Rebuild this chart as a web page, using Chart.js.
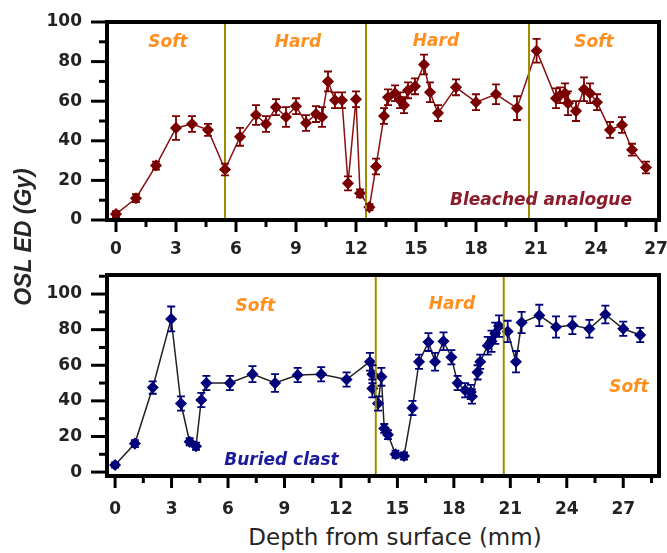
<!DOCTYPE html>
<html>
<head>
<meta charset="utf-8">
<script src="https://cdn.jsdelivr.net/npm/chart.js@4.4.1/dist/chart.umd.min.js"></script>
<style>
  body { margin: 0; background: #fff; }
  #wrap { position: relative; width: 667px; height: 553px; overflow: hidden; }
  .panel { position: absolute; left: 0; width: 667px; height: 262px; }
  #yTitle {
    position: absolute; left: -76px; top: 223px; width: 200px; height: 28px;
    line-height: 28px; text-align: center; transform: rotate(-90deg);
    font: italic bold 23px 'Liberation Sans', Arial, sans-serif; color: #262626;
  }
  #xTitle {
    position: absolute; left: 195px; top: 524px; width: 400px; line-height: 28px;
    text-align: center; font: 23px 'DejaVu Sans', sans-serif; color: #262626;
  }
</style>
</head>
<body>
<div id="wrap">
  <div class="panel" style="top:0"><canvas id="topChart"></canvas></div>
  <div class="panel" style="top:262px"><canvas id="bottomChart"></canvas></div>
  <div id="yTitle">OSL ED (Gy)</div>
  <div id="xTitle">Depth from surface (mm)</div>
</div>
<script>
// Bleached analogue (top panel)
const bleachedDepth = [0, 1.0, 2.0, 3.0, 3.8, 4.6, 5.45, 6.2, 7.0, 7.5, 8.0, 8.5, 9.0, 9.5, 10.0, 10.3, 10.6, 10.95, 11.3, 11.6, 12.0, 12.2, 12.67, 13.0, 13.4, 13.6, 13.95, 14.2, 14.4, 14.6, 14.95, 15.4, 15.7, 16.1, 17.0, 18.0, 19.0, 20.05, 21.03, 22.0, 22.2, 22.45, 22.6, 23.0, 23.4, 23.7, 24.05, 24.7, 25.3, 25.8, 26.5]
const bleachedED = [3, 11, 27.5, 46.5, 48.5, 45.5, 25.5, 42, 53, 48.5, 57, 52, 57.5, 49, 53.5, 52, 70, 60.5, 60.5, 18.5, 61, 13.5, 6.5, 27, 52.5, 62, 64, 60.5, 58, 65.5, 67.5, 78.5, 64.5, 54, 67, 59.5, 63.5, 56.5, 85.5, 61.5, 63, 64, 59, 55, 66, 64, 59.5, 45.5, 48, 35.5, 26.5]
const bleachedErr = [1.5, 2, 2, 6, 4, 3, 3, 4.5, 5, 4, 4, 5, 4, 4, 4, 5, 5, 4, 4, 3.5, 4, 2, 1.5, 4, 4, 4, 4, 4, 4, 4, 4, 5, 5, 4, 4, 4, 5, 6, 6, 5, 4, 5, 6, 5, 6, 5, 4, 4, 4, 3, 3]

// Buried clast (bottom panel)
const buriedDepth = [0, 1.05, 2.0, 2.98, 3.5, 3.96, 4.3, 4.58, 4.85, 6.1, 7.3, 8.5, 9.7, 10.95, 12.3, 13.54, 13.67, 13.67, 13.97, 14.15, 14.3, 14.5, 14.9, 15.35, 15.8, 16.15, 16.65, 17.0, 17.45, 17.87, 18.2, 18.6, 18.9, 18.96, 19.26, 19.4, 19.8, 20.0, 20.2, 20.4, 20.86, 21.3, 21.6, 22.54, 23.43, 24.3, 25.2, 26.05, 27.0, 27.9]
const buriedED = [4, 16, 47.5, 86, 38.5, 17, 14.5, 40.5, 50, 50, 55, 50, 54.5, 55, 52, 62, 55, 47, 38.5, 53.5, 24.5, 21, 10, 9, 36, 62, 73, 62, 73.5, 64.5, 50, 46, 45, 42.5, 56, 62, 71, 73.5, 78, 82, 79, 62, 84, 88, 81.5, 82.5, 80.5, 88.5, 80.5, 77]
const buriedErr = [1.5, 2, 3.5, 7, 4, 2, 2, 4, 4, 4, 4.5, 5, 4, 4, 4, 5, 5, 5, 4, 5, 2.5, 2.5, 2, 2, 4, 4, 5, 5, 5, 4, 4, 4, 4, 4, 4, 4, 5, 6, 6, 6, 6, 6, 6, 6, 6, 5, 5, 5, 4, 4]

// soft / hard boundaries (mm)
const bleachedBounds = [5.45, 12.5, 20.65]
const buriedBounds = [13.85, 20.65]

// axis ticks
const depthTicksTop = [0, 1.5, 3, 4.5, 6, 7.5, 9, 10.5, 12, 13.5, 15, 16.5, 18, 19.5, 21, 22.5, 24, 25.5, 27]
const depthTicksBottom = [0, 1.5, 3, 4.5, 6, 7.5, 9, 10.5, 12, 13.5, 15, 16.5, 18, 19.5, 21, 22.5, 24, 25.5, 27, 28.5]
const depthLabels = [0, 3, 6, 9, 12, 15, 18, 21, 24, 27]
const edTicksTop = [0, 10, 20, 30, 40, 50, 60, 70, 80, 90, 100]
const edTicksBottom = [0, 10, 20, 30, 40, 50, 60, 70, 80, 90, 100, 110]
const edLabels = [0, 20, 40, 60, 80, 100]

const orange = '#ff8f1f'
const noteFont = 'italic bold 17px "DejaVu Sans"'
const tickFont = { family: 'DejaVu Sans', size: 17, weight: 'bold' }

const topNotes = [
  { text: 'Soft', x: 2.6, y: 89.5, color: orange, font: noteFont },
  { text: 'Hard', x: 9.1, y: 89.5, color: orange, font: noteFont },
  { text: 'Hard', x: 16.0, y: 90, color: orange, font: noteFont },
  { text: 'Soft', x: 23.9, y: 89.5, color: orange, font: noteFont },
  { text: 'Bleached analogue', x: 21.25, y: 10, color: '#8b1c2c', font: 'italic bold 17px "DejaVu Sans"' }
]
const bottomNotes = [
  { text: 'Soft', x: 7.45, y: 93, color: orange, font: noteFont },
  { text: 'Hard', x: 17.9, y: 94, color: orange, font: noteFont },
  { text: 'Soft', x: 27.3, y: 47.5, color: orange, font: noteFont },
  { text: 'Buried clast', x: 8.84, y: 6.7, color: '#1c1c9a', font: 'italic bold 17px "DejaVu Sans"' }
]

function toPoints(xs, ys) {
  return xs.map((x, i) => ({ x: x, y: ys[i] }))
}

function boundLines(bounds, yMin, yMax) {
  return bounds.map(b => ({
    data: [{ x: b, y: yMin }, { x: b, y: yMax }],
    showLine: true, borderColor: '#a08c00', borderWidth: 2, pointRadius: 0
  }))
}

// thick frame + major/minor tick marks
const framePlugin = {
  id: 'frame',
  afterDraw(chart) {
    const { ctx, chartArea: a, scales: { x, y } } = chart
    ctx.save()
    ctx.strokeStyle = '#000'
    ctx.lineWidth = 3
    x.ticks.forEach(t => {
      const px = x.getPixelForValue(t.value)
      ctx.beginPath()
      ctx.moveTo(px, a.bottom)
      ctx.lineTo(px, a.bottom + (t.label !== '' ? 12 : 7))
      ctx.stroke()
    })
    y.ticks.forEach(t => {
      const py = y.getPixelForValue(t.value)
      ctx.beginPath()
      ctx.moveTo(a.left, py)
      ctx.lineTo(a.left - (t.label !== '' ? 16 : 8), py)
      ctx.stroke()
    })
    ctx.lineWidth = 4
    ctx.strokeRect(a.left, a.top, a.right - a.left, a.bottom - a.top)
    ctx.restore()
  }
}

const errorBarPlugin = {
  id: 'errorBars',
  afterDatasetsDraw(chart) {
    const { ctx, scales: { x, y } } = chart
    ctx.save()
    chart.data.datasets.forEach(ds => {
      if (!ds.errors) return
      ctx.strokeStyle = ds.pointBackgroundColor
      ctx.lineWidth = 1.8
      ds.data.forEach((p, i) => {
        const px = x.getPixelForValue(p.x)
        const lo = y.getPixelForValue(p.y - ds.errors[i])
        const hi = y.getPixelForValue(p.y + ds.errors[i])
        ctx.beginPath()
        ctx.moveTo(px, lo); ctx.lineTo(px, hi)
        ctx.moveTo(px - 4, lo); ctx.lineTo(px + 4, lo)
        ctx.moveTo(px - 4, hi); ctx.lineTo(px + 4, hi)
        ctx.stroke()
      })
    })
    ctx.restore()
  }
}

const notesPlugin = {
  id: 'notes',
  afterDraw(chart, args, opts) {
    const { ctx, scales: { x, y } } = chart
    ctx.save()
    ctx.textAlign = 'center'
    ctx.textBaseline = 'middle'
    ;(opts.items || []).forEach(n => {
      ctx.font = n.font
      ctx.fillStyle = n.color
      ctx.fillText(n.text, x.getPixelForValue(n.x), y.getPixelForValue(n.y))
    })
    ctx.restore()
  }
}

function makeChart(id, cfg) {
  return new Chart(document.getElementById(id), {
    type: 'scatter',
    data: {
      datasets: [
        ...boundLines(cfg.bounds, cfg.yMin, cfg.yMax),
        {
          data: toPoints(cfg.depth, cfg.ed),
          errors: cfg.err,
          showLine: true,
          borderColor: cfg.lineColor,
          borderWidth: 1.5,
          pointStyle: 'rectRot',
          pointRadius: 5,
          pointBackgroundColor: cfg.color,
          pointBorderColor: cfg.color
        }
      ]
    },
    options: {
      responsive: true,
      maintainAspectRatio: false,
      animation: false,
      layout: { padding: { top: cfg.padTop, right: 8, left: 0, bottom: 0 } },
      plugins: {
        legend: { display: false },
        tooltip: { enabled: false },
        notes: { items: cfg.notes }
      },
      scales: {
        x: {
          type: 'linear',
          min: cfg.xMin,
          max: cfg.xMax,
          grid: { display: false, drawTicks: false },
          border: { display: false },
          afterBuildTicks: s => { s.ticks = cfg.xTicks.map(v => ({ value: v })) },
          afterFit: s => {
            s.height = cfg.xHeight
            s.paddingLeft = 0
            s.paddingRight = 0
          },
          ticks: {
            autoSkip: false, maxRotation: 0, padding: cfg.xPad,
            font: tickFont, color: '#222',
            callback: v => depthLabels.includes(v) ? v : ''
          }
        },
        y: {
          min: cfg.yMin,
          max: cfg.yMax,
          grid: { display: false, drawTicks: false },
          border: { display: false },
          afterBuildTicks: s => { s.ticks = cfg.yTicks.map(v => ({ value: v })) },
          afterFit: s => {
            s.width = 107
            s.paddingTop = 0
            s.paddingBottom = 0
          },
          ticks: {
            autoSkip: false, padding: 25,
            font: tickFont, color: '#222',
            callback: v => edLabels.includes(v) ? v : ''
          }
        }
      }
    },
    plugins: [framePlugin, errorBarPlugin, notesPlugin]
  })
}

makeChart('topChart', {
  depth: bleachedDepth, ed: bleachedED, err: bleachedErr, bounds: bleachedBounds,
  color: '#7a0000', lineColor: '#8b1010', notes: topNotes,
  xMin: -0.45, xMax: 27.15, yMin: 0, yMax: 100,
  xTicks: depthTicksTop, yTicks: edTicksTop,
  padTop: 22, xHeight: 42, xPad: 19
})

makeChart('bottomChart', {
  depth: buriedDepth, ed: buriedED, err: buriedErr, bounds: buriedBounds,
  color: '#00007a', lineColor: '#222', notes: bottomNotes,
  xMin: -0.43, xMax: 28.9, yMin: -2.2, yMax: 110.7,
  xTicks: depthTicksBottom, yTicks: edTicksBottom,
  padTop: 13, xHeight: 48, xPad: 23
})
</script>
</body>
</html>
